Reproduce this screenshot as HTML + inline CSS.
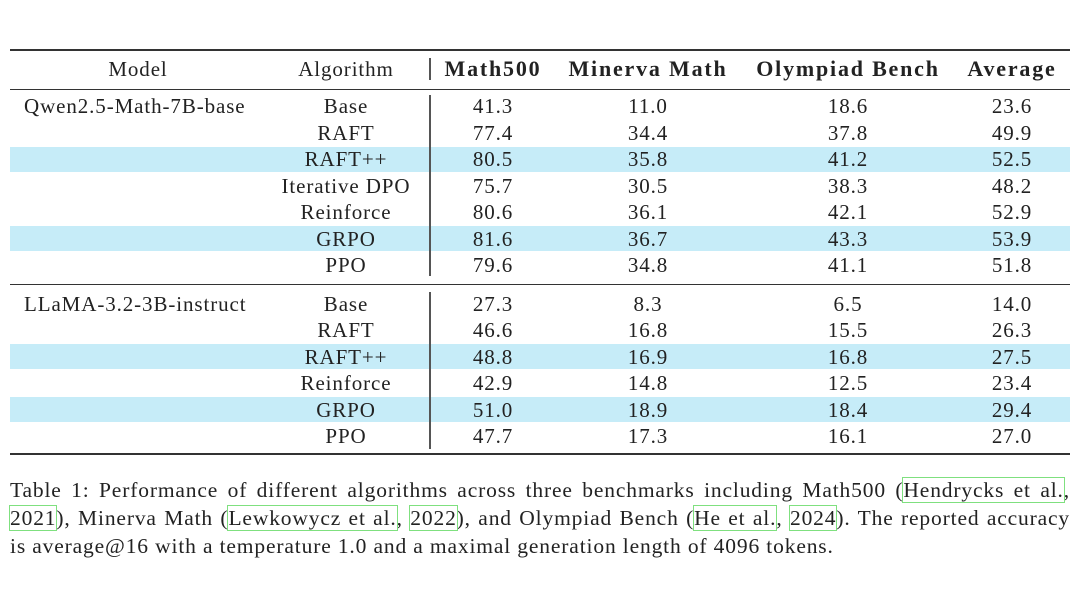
<!DOCTYPE html>
<html><head><meta charset="utf-8"><style>
body{margin:0;width:1080px;height:606px;background:#fff;position:relative;overflow:hidden;font-family:"Liberation Serif",serif;color:#222;}
.c{position:absolute;font-size:21px;letter-spacing:0.9px;line-height:24px;white-space:nowrap;transform:translate(-50%,-50%);}
.l{position:absolute;font-size:21px;letter-spacing:0.9px;line-height:24px;white-space:nowrap;transform:translate(0,-50%);}
.rule{position:absolute;left:10px;width:1060px;background:#333;}
.band{position:absolute;left:10px;width:1060px;height:25px;background:#c6ecf8;}
.vl{position:absolute;left:429px;width:1.5px;background:#555;}
.cap{position:absolute;left:10px;width:1060px;font-size:21.5px;letter-spacing:0.85px;line-height:28px;text-align:justify;text-align-last:justify;white-space:nowrap;}
.cap.last{text-align-last:left;}
.ref{outline:1.5px solid #7fe07f;outline-offset:0px;}
</style></head><body>
<div id="tbl"></div>
<div class="cap" style="top:476px">Table 1: Performance of different algorithms across three benchmarks including Math500 (<span class="ref">Hendrycks et al.</span>,</div>
<div class="cap" style="top:504px"><span class="ref">2021</span>), Minerva Math (<span class="ref">Lewkowycz et al.</span>, <span class="ref">2022</span>), and Olympiad Bench (<span class="ref">He et al.</span>, <span class="ref">2024</span>). The reported accuracy</div>
<div class="cap last" style="top:532px">is average@16 with a temperature 1.0 and a maximal generation length of 4096 tokens.</div>
<script>
const headers=["Model","Algorithm","Math500","Minerva Math","Olympiad Bench","Average"];
const models=["Qwen2.5-Math-7B-base","LLaMA-3.2-3B-instruct"];
const algos1=["Base","RAFT","RAFT++","Iterative DPO","Reinforce","GRPO","PPO"];
const algos2=["Base","RAFT","RAFT++","Reinforce","GRPO","PPO"];
const math500=[41.3,77.4,80.5,75.7,80.6,81.6,79.6,27.3,46.6,48.8,42.9,51.0,47.7];
const minerva=[11.0,34.4,35.8,30.5,36.1,36.7,34.8,8.3,16.8,16.9,14.8,18.9,17.3];
const olympiad=[18.6,37.8,41.2,38.3,42.1,43.3,41.1,6.5,15.5,16.8,12.5,18.4,16.1];
const average=[23.6,49.9,52.5,48.2,52.9,53.9,51.8,14.0,26.3,27.5,23.4,29.4,27.0];
const highlighted=["RAFT++","GRPO"];

const root=document.getElementById('tbl');
function add(cls,style,text,name){
  const d=document.createElement('div');d.className=cls;d.style.cssText=style;
  if(text!==undefined)d.textContent=text;
  
  
  root.appendChild(d);return d;
}
const colX=[138,346,493,648,848,1012];
const rows=[];
algos1.forEach((a,i)=>rows.push({m:i===0?models[0]:'',a,y:106+i*26.5}));
algos2.forEach((a,i)=>rows.push({m:i===0?models[1]:'',a,y:304+i*26.4}));
rows.forEach(r=>{if(highlighted.includes(r.a))add('band','top:'+(r.y-12.5)+'px',undefined,'highlight-band');});
add('rule','top:49px;height:1.6px',undefined,'top-rule');
add('rule','top:89px;height:1px',undefined,'header-rule');
add('rule','top:284px;height:1px',undefined,'group-rule');
add('rule','top:453px;height:1.6px',undefined,'bottom-rule');
add('vl','top:58px;height:22px',undefined,'header-divider');
add('vl','top:95px;height:181px',undefined,'group1-divider');
add('vl','top:292px;height:157px',undefined,'group2-divider');
headers.forEach((h,i)=>{add('c','left:'+colX[i]+'px;top:69px;'+(i>=2?'font-weight:bold;font-size:22px;letter-spacing:1.8px;':''),h,'header-'+h.toLowerCase().replace(/ /g,'-'));});
const vals=[math500,minerva,olympiad,average];
rows.forEach((r,i)=>{
  if(r.m)add('l','left:24px;top:'+r.y+'px',r.m,'model-name');
  add('c','left:'+colX[1]+'px;top:'+r.y+'px',r.a,'algorithm-cell');
  vals.forEach((v,j)=>add('c','left:'+colX[j+2]+'px;top:'+r.y+'px',v[i].toFixed(1),'value-cell'));
});
</script>
</body></html>
